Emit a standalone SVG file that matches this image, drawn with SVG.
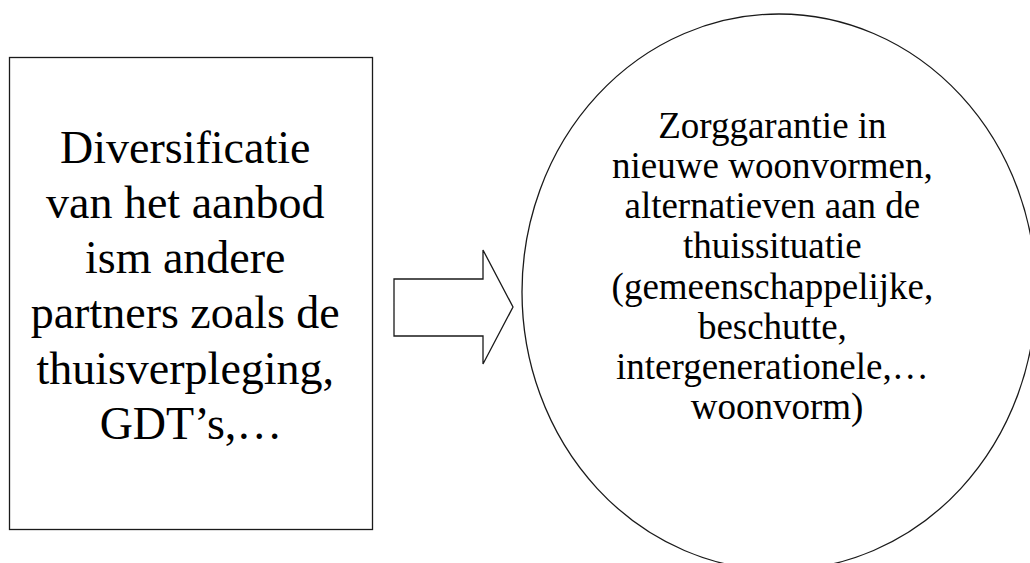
<svg xmlns="http://www.w3.org/2000/svg" width="1030" height="563" viewBox="0 0 1030 563">
  <style>
    .shape { fill: #ffffff; stroke: #1a1a1a; stroke-width: 1.3; }
    .label { font-family: "Liberation Serif", "Times New Roman", serif; fill: #000000; text-anchor: middle; }
    .big { font-size: 46px; }
    .mid { font-size: 37px; }
  </style>
  <rect width="1030" height="563" fill="#ffffff"/>

  <!-- left box -->
  <g id="node-diversificatie">
    <rect class="shape" x="9.5" y="57.5" width="363" height="472"/>
    <text class="label big">
      <tspan x="191" y="163">Diversificatie</tspan>
      <tspan x="191" y="218">van het aanbod</tspan>
      <tspan x="191" y="273">ism andere</tspan>
      <tspan x="191" y="328">partners zoals de</tspan>
      <tspan x="191" y="384">thuisverpleging,</tspan>
      <tspan x="191" y="439">GDT’s,…</tspan>
    </text>
  </g>

  <!-- block arrow -->
  <g id="connectors">
    <polygon class="shape" points="394,279 483,279 483,250 513,307 483,364 483,336 394,336"/>
  </g>

  <!-- right circle -->
  <g id="node-zorggarantie">
    <ellipse class="shape" cx="779" cy="292" rx="257" ry="278"/>
    <text class="label mid">
      <tspan x="777" y="138">Zorggarantie in</tspan>
      <tspan x="777" y="178">nieuwe woonvormen,</tspan>
      <tspan x="777" y="218">alternatieven aan de</tspan>
      <tspan x="777" y="258">thuissituatie</tspan>
      <tspan x="777" y="299">(gemeenschappelijke,</tspan>
      <tspan x="777" y="339">beschutte,</tspan>
      <tspan x="777" y="379">intergenerationele,…</tspan>
      <tspan x="777" y="419">woonvorm)</tspan>
    </text>
  </g>
</svg>
